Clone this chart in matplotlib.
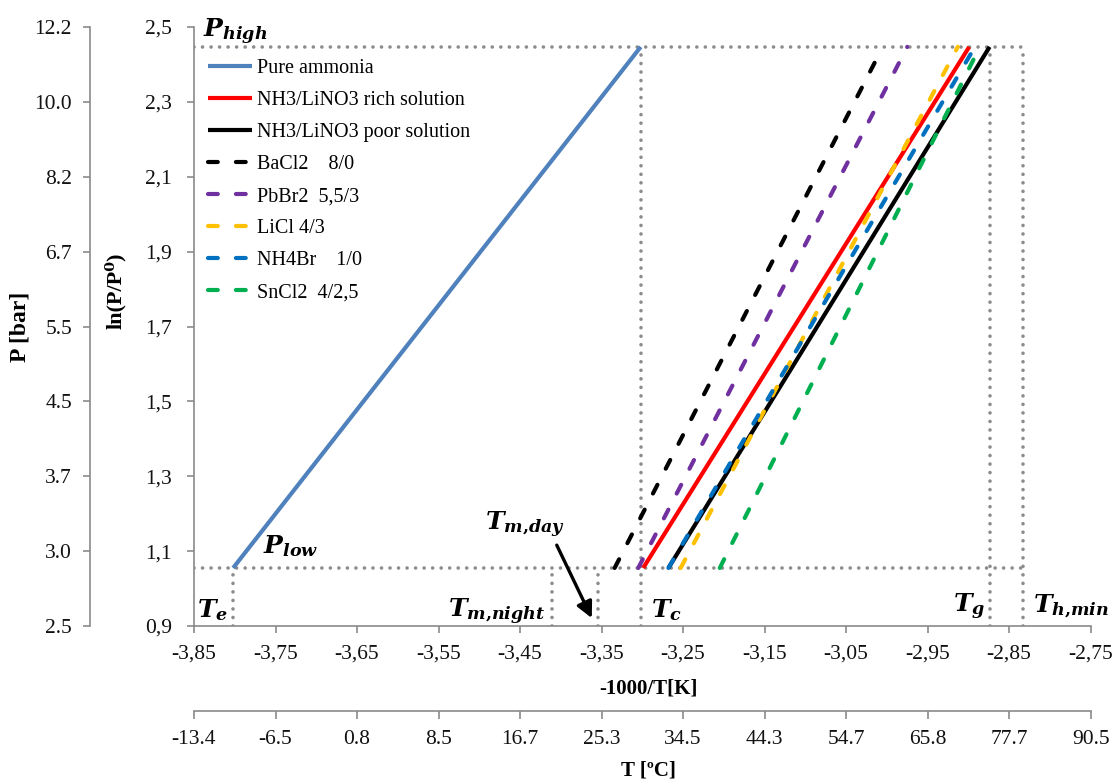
import matplotlib
matplotlib.use('Agg')
import matplotlib.pyplot as plt

# ---------------- data ----------------
ln_p_low = 1.055
ln_p_high = 2.447
ln_p_ends = [ln_p_low, ln_p_high]

pure_ammonia_x = [-3.802, -3.302]
rich_solution_x = [-3.299, -2.899]
poor_solution_x = [-3.268, -2.874]
bacl2_x = [-3.334, -3.005]
pbbr2_x = [-3.305, -2.975]
licl_x = [-3.253, -2.913]
nh4br_x = [-3.268, -2.892]
sncl2_x = [-3.205, -2.886]

t_e = -3.802
t_m_night = -3.411
t_m_day = -3.354
t_c = -3.302
t_g = -2.873
t_h_min = -2.833

x_ticks = [-3.85, -3.75, -3.65, -3.55, -3.45, -3.35, -3.25, -3.15, -3.05, -2.95, -2.85, -2.75]
x_tick_labels = ['-3,85', '-3,75', '-3,65', '-3,55', '-3,45', '-3,35', '-3,25', '-3,15',
                 '-3,05', '-2,95', '-2,85', '-2,75']
t_celsius_labels = ['-13.4', '-6.5', '0.8', '8.5', '16.7', '25.3', '34.5', '44.3',
                    '54.7', '65.8', '77.7', '90.5']
y_ticks = [0.9, 1.1, 1.3, 1.5, 1.7, 1.9, 2.1, 2.3, 2.5]
y_tick_labels = ['0,9', '1,1', '1,3', '1,5', '1,7', '1,9', '2,1', '2,3', '2,5']
p_bar_labels = ['2.5', '3.0', '3.7', '4.5', '5.5', '6.7', '8.2', '10.0', '12.2']

series = [
    ('Pure ammonia', pure_ammonia_x, '#4F81BD', '-'),
    ('NH3/LiNO3 rich solution', rich_solution_x, '#FF0000', '-'),
    ('NH3/LiNO3 poor solution', poor_solution_x, '#000000', '-'),
    ('BaCl2    8/0', bacl2_x, '#000000', '--'),
    ('PbBr2  5,5/3', pbbr2_x, '#7030A0', '--'),
    ('LiCl 4/3', licl_x, '#FFC000', '--'),
    ('NH4Br    1/0', nh4br_x, '#0070C0', '--'),
    ('SnCl2  4/2,5', sncl2_x, '#00B050', '--'),
]

# ---------------- style ----------------
plt.rcParams['font.family'] = ['Liberation Serif', 'DejaVu Serif']
plt.rcParams['mathtext.fontset'] = 'custom'
plt.rcParams['mathtext.it'] = 'DejaVu Serif:italic:bold'
plt.rcParams['mathtext.rm'] = 'DejaVu Serif:bold'
plt.rcParams['mathtext.bf'] = 'DejaVu Serif:bold'

SPINE = '#8a8a8a'
DOT = '#8c8c8c'
TICK_FS = 15.5

fig = plt.figure(figsize=(11.16, 7.81), dpi=100)
ax = fig.add_axes([194 / 1116, 1 - 626 / 781, 896.7 / 1116, 599 / 781])
ax.set_xlim(-3.85, -2.75)
ax.set_ylim(0.9, 2.5)

# dotted reference lines
dot_kw = dict(color=DOT, lw=2.6, linestyle=(0, (0.01, 2.35)), dash_capstyle='round', zorder=1)
ax.plot([-3.85, t_h_min], [ln_p_high, ln_p_high], **dot_kw)
ax.plot([-3.85, t_h_min], [ln_p_low, ln_p_low], **dot_kw)
for xv in [t_e, t_m_night, t_m_day]:
    ax.plot([xv, xv], [0.9, ln_p_low], **dot_kw)
for xv in [t_c, t_g, t_h_min]:
    ax.plot([xv, xv], [0.9, ln_p_high], **dot_kw)

# data lines
for label, xs, col, ls in series:
    if ls == '-':
        ax.plot(xs, ln_p_ends, color=col, lw=3.0, label=label, zorder=3,
                solid_capstyle='butt')
    else:
        ax.plot(xs, ln_p_ends, color=col, lw=3.0, label=label, zorder=3,
                linestyle=(0, (2.35, 4.35)), dash_capstyle='round')

# axes styling
for s in ['top', 'right']:
    ax.spines[s].set_visible(False)
for s in ['left', 'bottom']:
    ax.spines[s].set_color(SPINE)
    ax.spines[s].set_linewidth(1.2)
ax.set_xticks(x_ticks, x_tick_labels)
ax.set_yticks(y_ticks, y_tick_labels)
ax.tick_params(axis='both', colors=SPINE, labelcolor='#111111', labelsize=TICK_FS,
               length=5, width=1.2)
ax.tick_params(axis='y', pad=11)
ax.tick_params(axis='x', pad=8)
ax.set_xlabel('-1000/T[K]', fontsize=15, fontweight='bold')
ax.xaxis.set_label_coords(0.507, -0.088)
ax.set_ylabel('ln(P/P⁰)', fontsize=16, fontweight='bold')
ax.yaxis.set_label_coords(-0.076, 0.56)

# secondary P axis
ax_p = ax.twinx()
ax_p.set_ylim(ax.get_ylim())
for s in ['top', 'right', 'bottom']:
    ax_p.spines[s].set_visible(False)
ax_p.spines['left'].set_visible(True)
ax_p.spines['left'].set_position(('outward', 104 * 72 / 100))
ax_p.spines['left'].set_color(SPINE)
ax_p.spines['left'].set_linewidth(1.2)
ax_p.yaxis.set_ticks_position('left')
ax_p.yaxis.set_label_position('left')
ax_p.set_yticks(y_ticks, p_bar_labels)
ax_p.tick_params(axis='y', colors=SPINE, labelcolor='#111111', labelsize=TICK_FS,
                 length=5, width=1.2, pad=8)
ax_p.set_ylabel('P [bar]', fontsize=17, fontweight='bold')
ax_p.yaxis.set_label_coords(-0.182, 0.50)

# secondary T axis
ax_t = ax.twiny()
ax_t.set_xlim(ax.get_xlim())
for s in ['top', 'right', 'left']:
    ax_t.spines[s].set_visible(False)
ax_t.spines['bottom'].set_visible(True)
ax_t.spines['bottom'].set_position(('outward', 85 * 72 / 100))
ax_t.spines['bottom'].set_color(SPINE)
ax_t.spines['bottom'].set_linewidth(1.2)
ax_t.xaxis.set_ticks_position('bottom')
ax_t.xaxis.set_label_position('bottom')
ax_t.set_xticks(x_ticks, t_celsius_labels)
ax_t.tick_params(axis='x', colors=SPINE, labelcolor='#111111', labelsize=TICK_FS,
                 length=6, width=1.2, pad=8)
ax_t.set_xlabel('T [ºC]', fontsize=15, fontweight='bold')
ax_t.xaxis.set_label_coords(0.507, -0.225)

# legend
leg = ax.legend(loc='upper left', bbox_to_anchor=(0.0, 0.97), frameon=False,
                fontsize=14.5, handlelength=2.2, handletextpad=0.25,
                labelspacing=0.64, borderaxespad=0.3)
for t in leg.get_texts():
    t.set_color('black')

# annotations
txt_kw = dict(fontsize=18, va='baseline', ha='left', zorder=5)
ax.text(-3.839, 2.473, r'$P_{high}$', **txt_kw)
ax.text(-3.765, 1.095, r'$P_{low}$', **txt_kw)
ax.text(-3.846, 0.924, r'$T_{e}$', **txt_kw)
ax.text(-3.538, 0.924, r'$T_{m{,}night}$', **txt_kw)
ax.text(-3.493, 1.156, r'$T_{m{,}day}$', **txt_kw)
ax.text(-3.289, 0.924, r'$T_{c}$', **txt_kw)
ax.text(-2.919, 0.937, r'$T_{g}$', **txt_kw)
ax.text(-2.821, 0.937, r'$T_{h{,}min}$', **txt_kw)
ax.annotate('', xy=(-3.362, 0.921), xytext=(-3.405, 1.116),
            arrowprops=dict(arrowstyle='-|>', color='black', lw=2.4,
                            mutation_scale=24, shrinkA=0, shrinkB=0))

fig.savefig('out.png', dpi=100)
